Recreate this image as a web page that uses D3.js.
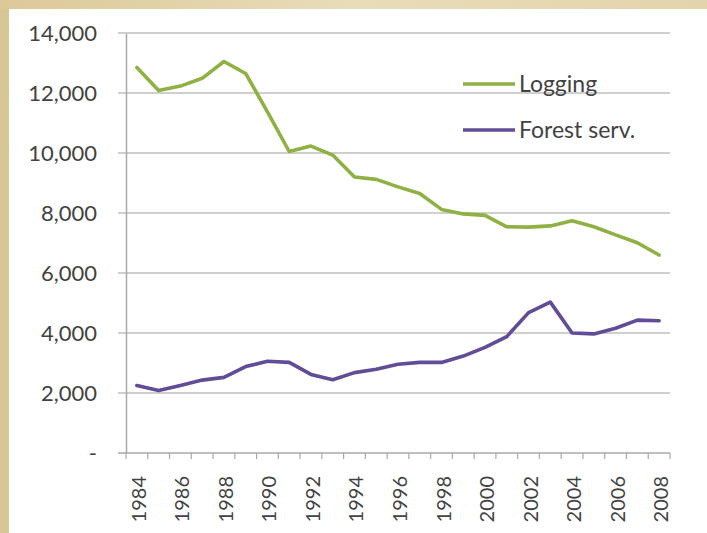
<!DOCTYPE html>
<html>
<head>
<meta charset="utf-8">
<script src="https://cdn.jsdelivr.net/npm/d3@7"></script>
<style>
  html, body { margin: 0; padding: 0; background: #ffffff; }
  svg { display: block; }
  text { font-family: Lato, "Open Sans", sans-serif; fill: #424242; }
</style>
</head>
<body>
<svg id="chart" width="707" height="533"></svg>
<script>
// Employment by year, 1984–2008
const years = d3.range(1984, 2009);
const logging = [12850, 12080, 12230, 12490, 13050, 12650, 11370, 10050, 10230, 9930,
                 9200, 9120, 8870, 8650, 8120, 7970, 7920, 7540, 7530, 7570,
                 7740, 7540, 7270, 7010, 6600];
const forestServ = [2250, 2080, 2250, 2430, 2520, 2880, 3060, 3020, 2620, 2440,
                    2680, 2790, 2960, 3020, 3020, 3230, 3520, 3880, 4680, 5030,
                    4000, 3970, 4160, 4430, 4410];
const yTicks = [0, 2000, 4000, 6000, 8000, 10000, 12000, 14000];
const seriesNames = ["Logging", "Forest serv."];
const seriesColors = ["#8fb043", "#614c98"];

const W = 707, H = 533;
const svg = d3.select("#chart");

// Beige frame around the white chart panel
const defs = svg.append("defs");
const grad = defs.append("linearGradient").attr("id", "frame")
  .attr("x1", "0").attr("y1", "0").attr("x2", "1").attr("y2", "0");
grad.append("stop").attr("offset", "0").attr("stop-color", "#dcc99a");
grad.append("stop").attr("offset", "0.5").attr("stop-color", "#e9dcb9");
grad.append("stop").attr("offset", "1").attr("stop-color", "#e4d4ab");
svg.append("rect").attr("width", W).attr("height", H).attr("fill", "url(#frame)");
svg.append("rect").attr("x", 0).attr("y", 9).attr("width", 9).attr("height", H - 9).attr("fill", "#d9c697");
svg.append("rect").attr("x", 9).attr("y", 9).attr("width", W - 9).attr("height", H - 9).attr("fill", "#ffffff");

// Plot area
const plotLeft = 126, plotRight = 670, plotTop = 33, plotBottom = 453;

const x = d3.scaleBand().domain(years).range([plotLeft, plotRight]).paddingInner(0).paddingOuter(0);
const y = d3.scaleLinear().domain([0, 14000]).range([plotBottom, plotTop]);

// Horizontal gridlines (they also act as the y-axis tick marks)
svg.append("g").selectAll("line")
  .data(yTicks.filter(d => d > 0))
  .join("line")
  .attr("x1", plotLeft - 8).attr("x2", plotRight)
  .attr("y1", d => y(d)).attr("y2", d => y(d))
  .attr("stroke", "#cfcfcf").attr("stroke-width", 2);

// Y axis
const yAxis = d3.axisLeft(y).tickValues(yTicks)
  .tickSize(0).tickPadding(29)
  .tickFormat(d => d === 0 ? "-" : d3.format(",")(d));
const gy = svg.append("g").attr("transform", `translate(${plotLeft},0)`).call(yAxis);
gy.select(".domain").attr("stroke", "#a8a8a8").attr("stroke-width", 1.5);
gy.selectAll("text").style("font-size", "22px").attr("fill", "#424242")
  .style("font-family", "Lato, sans-serif");

// X axis: labels every other year, tick marks at category boundaries
const xAxis = d3.axisBottom(x)
  .tickValues(years.filter(d => d % 2 === 0))
  .tickSize(0).tickPadding(0);
const gx = svg.append("g").attr("transform", `translate(0,${plotBottom})`).call(xAxis);
gx.select(".domain").remove();
gx.selectAll("text")
  .attr("transform", "rotate(-90)")
  .attr("text-anchor", "end")
  .attr("x", -23).attr("y", 0).attr("dy", "0.45em")
  .style("font-size", "20px").attr("fill", "#424242")
  .style("font-family", "Lato, sans-serif");

svg.append("line")
  .attr("x1", plotLeft - 8).attr("x2", plotRight)
  .attr("y1", plotBottom).attr("y2", plotBottom)
  .attr("stroke", "#a8a8a8").attr("stroke-width", 1.5);
const boundaries = years.map(d => x(d)).concat([x.range()[1]]);
svg.append("g").selectAll("line")
  .data(boundaries)
  .join("line")
  .attr("x1", d => d).attr("x2", d => d)
  .attr("y1", plotBottom).attr("y2", plotBottom + 6)
  .attr("stroke", "#a8a8a8").attr("stroke-width", 1.2);

// Series lines
const line = d3.line()
  .x((d, i) => x(years[i]) + x.bandwidth() / 2)
  .y(d => y(d));
[logging, forestServ].forEach((vals, k) => {
  svg.append("path")
    .datum(vals)
    .attr("d", line)
    .attr("fill", "none")
    .attr("stroke", seriesColors[k])
    .attr("stroke-width", 3.6)
    .attr("stroke-linejoin", "round")
    .attr("stroke-linecap", "round");
});

// Legend
const legendY = [84, 130];
const lg = svg.append("g");
seriesNames.forEach((name, k) => {
  lg.append("line")
    .attr("x1", 463).attr("x2", 515)
    .attr("y1", legendY[k]).attr("y2", legendY[k])
    .attr("stroke", seriesColors[k]).attr("stroke-width", 3.6);
  lg.append("text")
    .attr("x", 519).attr("y", legendY[k]).attr("dy", "0.36em")
    .style("font-size", "23px")
    .text(name);
});
</script>
</body>
</html>
